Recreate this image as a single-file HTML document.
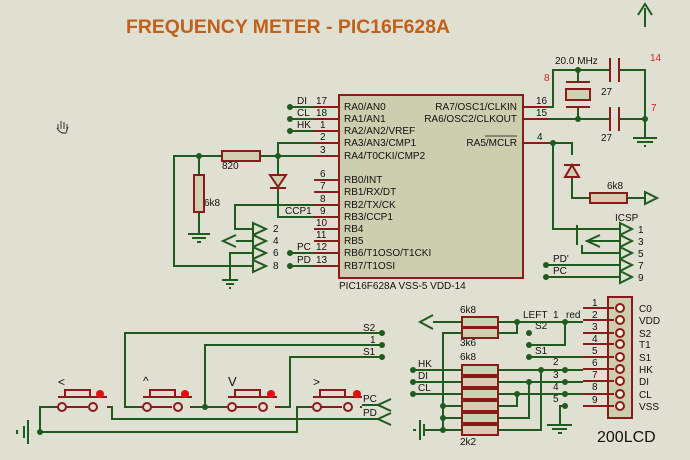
<!DOCTYPE html>
<html><head><meta charset="utf-8"><style>
html,body{margin:0;padding:0;background:#e0e0d2;}
svg{display:block;font-family:"Liberation Sans",sans-serif;}
.g{stroke:#1f5a1f;stroke-width:2;fill:none}
.r{stroke:#8b1a1a;stroke-width:2;fill:none}
.res{stroke:#8b1a1a;stroke-width:2;fill:#cfcfb2}
.t{font-size:10px;fill:#111}
.d{fill:#1f5a1f}
</style></head><body>
<svg width="690" height="460" viewBox="0 0 690 460">
<rect width="690" height="460" fill="#e0e0d2"/>
<text x="126" y="33" font-size="19" font-weight="bold" fill="#c0601a" textLength="324" lengthAdjust="spacingAndGlyphs">FREQUENCY METER - PIC16F628A</text>
<g stroke="#333" stroke-width="1" fill="none"><path d="M58 130V124M61 129V121M64 129V122M67 130V124M57 128Q60 134 66 133L68 127"/></g>

<!-- chip -->
<rect x="339" y="95" width="184" height="183" fill="#cdcdb0" stroke="#8b1a1a" stroke-width="2"/>
<g class="r">
<path d="M314 107H339M314 119H339M314 131H339M314 143H339M314 156H339M314 180H339M314 192H339M314 205H339M314 217H339M314 229H339M314 241H339M314 253H339M314 266H339"/>
<path d="M523 107H548M523 119H548M523 143H548"/>
</g>
<g class="t">
<text x="344" y="110">RA0/AN0</text><text x="344" y="122">RA1/AN1</text><text x="344" y="134">RA2/AN2/VREF</text>
<text x="344" y="146">RA3/AN3/CMP1</text><text x="344" y="159">RA4/T0CKI/CMP2</text>
<text x="344" y="183">RB0/INT</text><text x="344" y="195">RB1/RX/DT</text><text x="344" y="208">RB2/TX/CK</text>
<text x="344" y="220">RB3/CCP1</text><text x="344" y="232">RB4</text><text x="344" y="244">RB5</text>
<text x="344" y="256">RB6/T1OSO/T1CKI</text><text x="344" y="269">RB7/T1OSI</text>
<text x="517" y="110" text-anchor="end">RA7/OSC1/CLKIN</text><text x="517" y="122" text-anchor="end">RA6/OSC2/CLKOUT</text>
<text x="517" y="146" text-anchor="end">RA5/MCLR</text>
<line x1="485" y1="136" x2="517" y2="136" stroke="#111" stroke-width="0.8"/>
<text x="339" y="289">PIC16F628A VSS-5 VDD-14</text>
<text x="316" y="104">17</text><text x="316" y="116">18</text><text x="320" y="128">1</text><text x="320" y="140">2</text><text x="320" y="153">3</text>
<text x="320" y="177">6</text><text x="320" y="189">7</text><text x="320" y="202">8</text><text x="320" y="214">9</text>
<text x="316" y="226">10</text><text x="316" y="238">11</text><text x="316" y="250">12</text><text x="316" y="263">13</text>
<text x="536" y="104">16</text><text x="536" y="116">15</text><text x="537" y="140">4</text>
<text x="297" y="104">DI</text><text x="297" y="116">CL</text><text x="297" y="128">HK</text>
<text x="297" y="250">PC</text><text x="297" y="263">PD</text>
<text x="285" y="214">CCP1</text>
<text x="222" y="169">820</text><text x="204" y="206">6k8</text>
<text x="273" y="232">2</text><text x="273" y="244">4</text><text x="273" y="256">6</text><text x="273" y="269">8</text>
</g>
<!-- left wiring -->
<g class="g">
<path d="M290 107H314M290 119H314M290 131H314M290 253H314M290 266H314"/>
<path d="M278 156H314M278 156V143H314M278 156V175M278 188V217H314"/>
<path d="M199 156H174V266H253M199 156H222M260 156H278M199 156V175M199 212V234"/>
<path d="M314 205H235V229H253M236 241H253M253 253H230V280"/>
<path d="M188 234H210M192 238H206M197 242H201M222 280H238M226 284H234M229 288H231"/>
<path d="M253 223L266 229L253 235ZM253 235L266 241L253 247ZM253 247L266 253L253 259ZM253 260L266 266L253 272ZM236 235L223 241L236 247"/>
</g>
<g class="d"><circle cx="290" cy="107" r="3"/><circle cx="290" cy="119" r="3"/><circle cx="290" cy="131" r="3"/><circle cx="290" cy="253" r="3"/><circle cx="290" cy="266" r="3"/><circle cx="199" cy="156" r="3"/><circle cx="278" cy="156" r="3"/></g>
<rect x="222" y="151" width="38" height="10" class="res"/>
<rect x="194" y="175" width="10" height="37" class="res"/>
<path d="M270 175H286L278 187Z" fill="#cfcfb2" stroke="#8b1a1a" stroke-width="2"/><path d="M270 188H286" class="r"/>

<!-- crystal section -->
<g class="g">
<path d="M548 107H553V70H610M619 70H645V138M548 119H610M619 119H645M578 70V82M578 107V119"/>
<path d="M633 138H657M637 142H653M644 146H646"/>
<path d="M645 27V8M638 15L645 4L652 15"/>
<path d="M548 143H553V229H620M553 143H572V155M572 177V198H590M627 198H645M645 192L657 198L645 204Z"/>
<path d="M620 223L632 229L620 235ZM620 235L632 241L620 247ZM620 247L632 253L620 259ZM620 259L632 265L620 271ZM620 271L632 277L620 283Z"/>
<path d="M586 241H620M600 235L587 241L600 247M582 245V253H620M577 225V245M546 265H620M546 277H620"/>
</g>
<g class="r"><path d="M610 58V82M619 58V82M610 107V131M619 107V131M566 82H590M566 107H590"/></g>
<rect x="566" y="89" width="24" height="11" class="res"/>
<path d="M564 165H580M565 177H579L572 165Z" fill="#cfcfb2" stroke="#8b1a1a" stroke-width="2"/>
<rect x="590" y="193" width="37" height="10" class="res"/>
<g class="d"><circle cx="578" cy="70" r="3"/><circle cx="578" cy="119" r="3"/><circle cx="645" cy="119" r="3"/><circle cx="553" cy="143" r="3"/><circle cx="546" cy="265" r="3"/><circle cx="546" cy="277" r="3"/></g>
<g class="t">
<text x="555" y="64">20.0 MHz</text><text x="601" y="95">27</text><text x="601" y="141">27</text>
<text x="650" y="61" fill="#e02020">14</text><text x="651" y="111" fill="#e02020">7</text><text x="544" y="81" fill="#e02020">8</text>
<text x="607" y="189">6k8</text><text x="615" y="221">ICSP</text>
<text x="638" y="233">1</text><text x="638" y="245">3</text><text x="638" y="257">5</text><text x="638" y="269">7</text><text x="638" y="281">9</text>
<text x="553" y="262">PD'</text><text x="553" y="274">PC</text>
</g>

<!-- LCD connector -->
<rect x="608" y="297" width="24" height="121" fill="#cdcdb0" stroke="#8b1a1a" stroke-width="2"/>
<g class="r"><path d="M583 308H614M583 320H614M583 333H614M583 344H614M583 357H614M583 369H614M583 381H614M583 394H614M583 406H614"/></g>
<g fill="#f0f0e0" stroke="#8b1a1a" stroke-width="2">
<circle cx="620" cy="308" r="4"/><circle cx="620" cy="320" r="4"/><circle cx="620" cy="333" r="4"/><circle cx="620" cy="344" r="4"/><circle cx="620" cy="357" r="4"/><circle cx="620" cy="369" r="4"/><circle cx="620" cy="381" r="4"/><circle cx="620" cy="394" r="4"/><circle cx="620" cy="406" r="4"/></g>
<g class="t">
<text x="592" y="306">1</text><text x="592" y="318">2</text><text x="592" y="330">3</text><text x="592" y="342">4</text><text x="592" y="354">5</text><text x="592" y="366">6</text><text x="592" y="378">7</text><text x="592" y="390">8</text><text x="592" y="403">9</text>
<text x="639" y="312">C0</text><text x="639" y="324">VDD</text><text x="639" y="337">S2</text><text x="639" y="348">T1</text><text x="639" y="361">S1</text><text x="639" y="373">HK</text><text x="639" y="385">DI</text><text x="639" y="398">CL</text><text x="639" y="410">VSS</text>
<text x="597" y="442" font-size="16">200LCD</text>
<text x="460" y="313">6k8</text><text x="460" y="346">3k6</text><text x="460" y="360">6k8</text><text x="460" y="445">2k2</text>
<text x="523" y="318">LEFT</text><text x="553" y="318">1</text><text x="566" y="318">red</text>
<text x="535" y="329">S2</text><text x="535" y="354">S1</text>
<text x="418" y="367">HK</text><text x="418" y="379">DI</text><text x="418" y="391">CL</text>
<text x="553" y="365">2</text><text x="553" y="378">3</text><text x="553" y="390">4</text><text x="553" y="402">5</text>
</g>
<g class="g">
<path d="M433 322H462M498 322H583M433 315L420 322L433 329M498 333H517V322M462 333H443V430"/>
<path d="M565 322V345H529M529 357H583"/>
<path d="M413 370H462M498 370H583M413 382H462M498 382H583M413 394H462M498 394H583"/>
<path d="M498 406H517V394M498 418H529V382M498 430H541V370M443 406H462M443 418H462M425 430H462"/>
<path d="M420 420V440M424 424V436M413 430H416"/>
<path d="M565 406H560V425M547 425H572M552 429H567M558 433H562"/>
</g>
<g class="res">
<rect x="462" y="317" width="36" height="10"/><rect x="462" y="328" width="36" height="10"/>
<rect x="462" y="365" width="36" height="10"/><rect x="462" y="377" width="36" height="10"/><rect x="462" y="389" width="36" height="10"/><rect x="462" y="401" width="36" height="10"/><rect x="462" y="413" width="36" height="10"/><rect x="462" y="425" width="36" height="10"/>
</g>
<g class="d">
<circle cx="517" cy="322" r="3"/><circle cx="565" cy="322" r="3"/><circle cx="529" cy="333" r="3"/><circle cx="529" cy="345" r="3"/><circle cx="529" cy="357" r="3"/>
<circle cx="413" cy="370" r="3"/><circle cx="413" cy="382" r="3"/><circle cx="413" cy="394" r="3"/>
<circle cx="541" cy="370" r="3"/><circle cx="565" cy="370" r="3"/><circle cx="529" cy="382" r="3"/><circle cx="565" cy="382" r="3"/><circle cx="517" cy="394" r="3"/><circle cx="565" cy="394" r="3"/><circle cx="565" cy="406" r="3"/>
<circle cx="443" cy="406" r="3"/><circle cx="443" cy="418" r="3"/><circle cx="443" cy="430" r="3"/>
</g>

<!-- switches -->
<g class="g">
<path d="M382 333H125V407H140M382 345H205V407M382 357H290V407H280"/>
<path d="M40 432H297V407H310M40 432V407H55M107 407H112V419H378M362 405H378"/>
<path d="M190 407H225"/>
<path d="M28 420V444M24 426V438M17 430V434"/>
<path d="M391 399L378 405L391 411M391 413L378 419L391 425"/>
</g>
<g class="d"><circle cx="382" cy="333" r="3"/><circle cx="382" cy="345" r="3"/><circle cx="382" cy="357" r="3"/><circle cx="205" cy="407" r="3"/><circle cx="40" cy="432" r="3"/></g>
<g class="r">
<path d="M55 407H58M66 407H88M107 407H110M140 407H142M150 407H172M190 407H192M225 407H227M235 407H257M275 407H280M310 407H312M320 407H342M360 407H362"/>
<path d="M58 397H107M65 397V390H90V397M143 397H192M150 397V390H175V397M228 397H277M235 397V390H260V397M313 397H362M320 397V390H345V397"/>
</g>
<g fill="#e0e0d2" stroke="#8b1a1a" stroke-width="2">
<circle cx="62" cy="407" r="4"/><circle cx="93" cy="407" r="4"/><circle cx="147" cy="407" r="4"/><circle cx="178" cy="407" r="4"/><circle cx="232" cy="407" r="4"/><circle cx="263" cy="407" r="4"/><circle cx="317" cy="407" r="4"/><circle cx="348" cy="407" r="4"/></g>
<g fill="#e01010"><circle cx="100" cy="394" r="4"/><circle cx="185" cy="394" r="4"/><circle cx="271" cy="394" r="4"/><circle cx="357" cy="394" r="4"/></g>
<g class="t">
<text x="58" y="386" font-size="12">&lt;</text><text x="143" y="385" font-size="12">^</text><text x="228" y="386" font-size="13">V</text><text x="313" y="386" font-size="12">&gt;</text>
<text x="363" y="331">S2</text><text x="370" y="343">1</text><text x="363" y="355">S1</text>
<text x="363" y="402">PC</text><text x="363" y="416">PD</text>
</g>
</svg>
</body></html>
